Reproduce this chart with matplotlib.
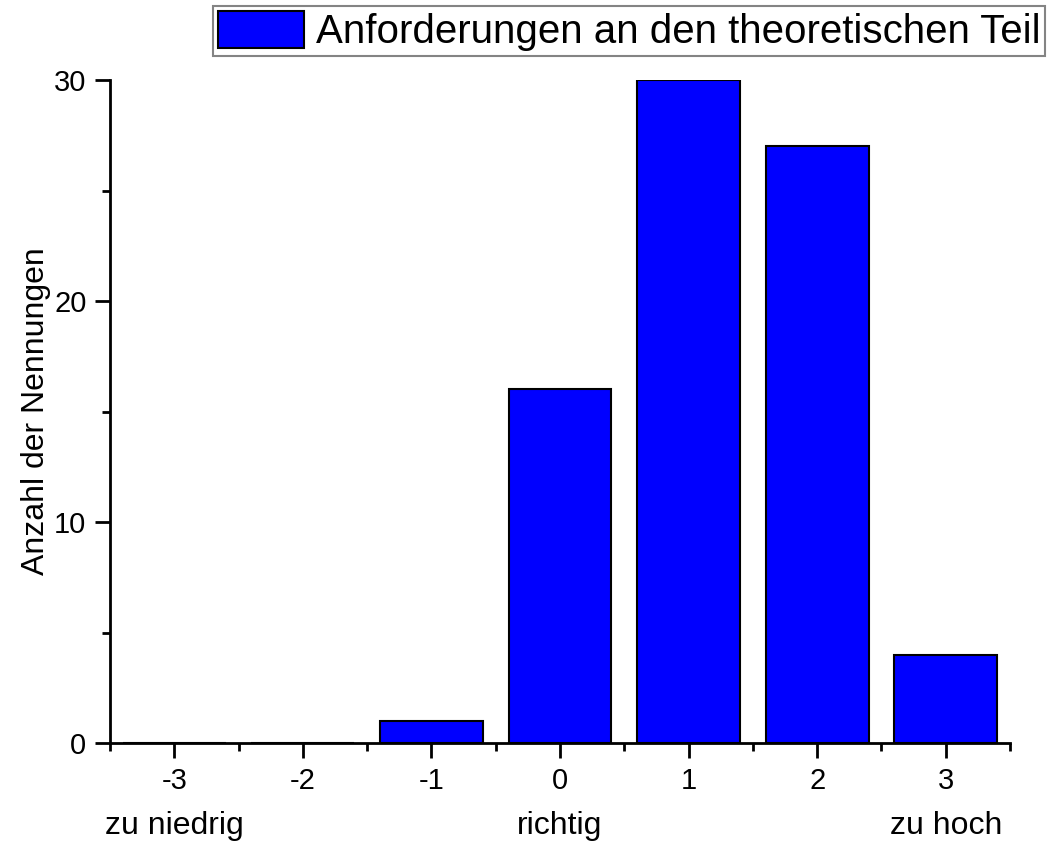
import numpy as np
import matplotlib.pyplot as plt
from matplotlib.transforms import blended_transform_factory

plt.rcParams['font.family'] = ['Liberation Sans', 'DejaVu Sans']
plt.rcParams['axes.unicode_minus'] = False

# Bewertung -3 .. 3 und Anzahl der Nennungen
bewertung = [-3, -2, -1, 0, 1, 2, 3]
anzahl = [0, 0, 1, 16, 30, 27, 4]
yticks = [0, 10, 20, 30]
skala_texte = ['zu niedrig', 'richtig', 'zu hoch']
skala_pos = [-3, 0, 3]

fig = plt.figure(figsize=(10.48, 8.52), dpi=100)
ax = fig.add_axes([110/1048, 1 - 743/852, 900/1048, 663/852])

ax.bar(bewertung, anzahl, width=0.8, color='#0000ff', edgecolor='black',
       linewidth=1.5, label='Anforderungen an den theoretischen Teil', zorder=3)

ax.set_xlim(-3.5, 3.5)
ax.set_ylim(0, 30)
ax.set_xticks(bewertung)
ax.set_xticks(np.arange(-3.5, 3.6, 1.0), minor=True)
ax.set_yticks(yticks)
ax.set_yticks([5, 15, 25], minor=True)

for s in ['top', 'right']:
    ax.spines[s].set_visible(False)
for s in ['left', 'bottom']:
    ax.spines[s].set_linewidth(2)
    ax.spines[s].set_clip_on(False)

ax.tick_params(which='major', direction='out', length=11, width=2, labelsize=21, pad=6)
ax.tick_params(which='minor', direction='out', length=6, width=2)
ax.set_ylabel('Anzahl der Nennungen', fontsize=23, labelpad=2)

trans = blended_transform_factory(ax.transData, fig.transFigure)
for t, p in zip(skala_texte, skala_pos):
    ax.text(p, 1 - 826/852, t, transform=trans, ha='center', va='center', fontsize=23)

leg = ax.legend(loc='upper left', bbox_to_anchor=(213/1048, 1 - 6/852),
                bbox_transform=fig.transFigure, fontsize=29, frameon=True,
                fancybox=False, handlelength=2.13, handleheight=1.04,
                handletextpad=0.3, borderpad=0.12, borderaxespad=0)
leg.get_frame().set_edgecolor('#666666')
leg.get_frame().set_linewidth(1.5)

fig.savefig('out.png', dpi=100)
